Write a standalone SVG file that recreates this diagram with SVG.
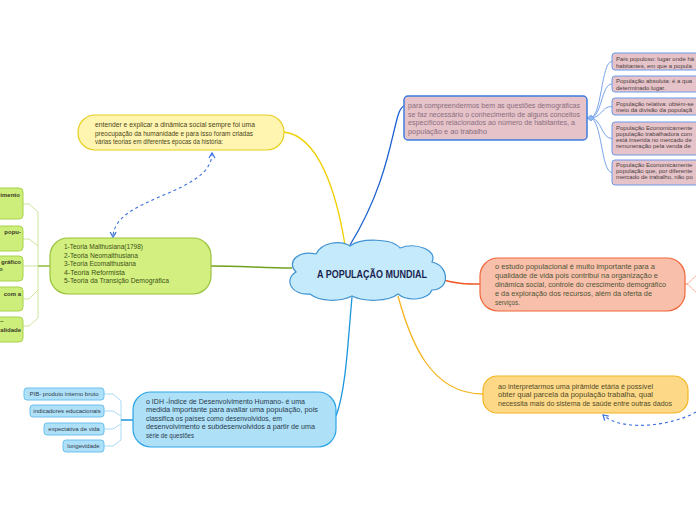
<svg xmlns="http://www.w3.org/2000/svg" width="696" height="520" viewBox="0 0 696 520">
<defs>
<marker id="arr" markerWidth="8" markerHeight="8" refX="6" refY="4" orient="auto" markerUnits="userSpaceOnUse">
<path d="M1,1 L6,4 L1,7" fill="none" stroke="#3a6fe0" stroke-width="1.2"/>
</marker>
<marker id="arrs" markerWidth="8" markerHeight="8" refX="2" refY="4" orient="auto" markerUnits="userSpaceOnUse">
<path d="M7,1 L2,4 L7,7" fill="none" stroke="#3a6fe0" stroke-width="1.2"/>
</marker>
</defs>
<style>
text{font-family:"Liberation Sans","DejaVu Sans",sans-serif;}
.t{font-size:7px;}
.s{font-size:6px;fill:#4a4040;}
.g{font-size:6px;font-weight:bold;fill:#3a3a2a;}
.b{font-size:6px;fill:#2e3a48;}
.conn{fill:none;}
.dash{fill:none;stroke:#3a6fe0;stroke-width:1.1;stroke-dasharray:3,3;}
</style>
<rect width="696" height="520" fill="#ffffff"/>

<g id="connectors">
<path class="conn" d="M284,132 C318,136 336,190 345,245" stroke="#f0d000" stroke-width="1.3"/>
<path class="conn" d="M211,266 C240,266 265,268 292,268" stroke="#6fa11e" stroke-width="1.5"/>
<path class="conn" d="M404,106 C392,110 396,170 350,245" stroke="#1a5fd0" stroke-width="1.3"/>
<path class="conn" d="M443,280 C458,284 466,284 480,284" stroke="#f05a28" stroke-width="1.3"/>
<path class="conn" d="M398,296 C410,340 430,394 483,394" stroke="#f5b41e" stroke-width="1.3"/>
<path class="conn" d="M352,297 C348,340 346,390 336,416" stroke="#1e96dc" stroke-width="1.3"/>
<path class="conn" d="M590,118 C602,118 601,61.5 612,61.5" stroke="#6a9ae8" stroke-width="0.9"/>
<path class="conn" d="M590,118 C602,118 601,84 612,84" stroke="#6a9ae8" stroke-width="0.9"/>
<path class="conn" d="M590,118 C602,118 601,106.5 612,106.5" stroke="#6a9ae8" stroke-width="0.9"/>
<path class="conn" d="M590,118 C602,118 601,138.5 612,138.5" stroke="#6a9ae8" stroke-width="0.9"/>
<path class="conn" d="M590,118 C602,118 601,172.5 612,172.5" stroke="#6a9ae8" stroke-width="0.9"/>
<path d="M587,118 L591,115 L594,118 L591,121 Z" fill="#8fb6f0" stroke="#5b8fe6" stroke-width="0.6"/>
<path class="conn" d="M685,284 C690,284 692,278 696,276" stroke="#f8a688" stroke-width="0.9"/>
<path class="conn" d="M685,284 C690,284 692,290 696,292" stroke="#f8a688" stroke-width="0.9"/>
<g stroke="#cde59c" stroke-width="1" fill="none">
<path d="M23,204 L29,204 L38,212 L38,318 L29,326 L23,326"/>
<path d="M23,239 L29,239 L38,246"/>
<path d="M23,266 L38,266"/>
<path d="M23,299 L29,299 L38,290"/>
</g>
<path class="conn" d="M38,266 L50,266" stroke="#8fbd3a" stroke-width="1.5"/>
<g stroke="#a9daf6" stroke-width="1" fill="none">
<path d="M104,394 L113,394 L121,401 L121,440 L113,446 L104,446"/>
<path d="M104,411 L113,411 L121,416"/>
<path d="M104,429 L113,429 L121,424"/>
</g>
<path class="conn" d="M121,420 L133,420" stroke="#1e96dc" stroke-width="1.5"/>
<path class="dash" d="M212,153 C212,195 114,196 113,237" marker-start="url(#arrs)" marker-end="url(#arr)"/>
<path class="dash" d="M696,412 C672,426 622,432 603,415" marker-end="url(#arr)"/>
</g>

<g id="center">
<path d="M310,294 C292,296 283,280 296,272 C286,262 298,250 316,254 C322,242 340,240 350,246 C360,238 392,238 400,248 C416,242 438,250 432,262 C450,266 450,290 432,290 C428,300 408,302 398,294 C388,302 364,302 352,296 C340,302 320,302 310,294 Z" fill="#c5eafc" stroke="#3f93d2" stroke-width="1.2"/>
<text x="317" y="278" font-size="10" font-weight="bold" fill="#1b2550" textLength="110" lengthAdjust="spacingAndGlyphs">A POPULAÇÃO MUNDIAL</text>
</g>

<g id="node-teorias-intro">
<rect x="78" y="115" width="206" height="35" rx="17" fill="#fff5b1" stroke="#e6cf1e" stroke-width="1.2"/>
<text class="t" fill="#4a4620">
<tspan x="95" y="127" textLength="160" lengthAdjust="spacingAndGlyphs">entender e explicar a dinâmica social sempre foi uma</tspan>
<tspan x="95" y="135.5" textLength="158" lengthAdjust="spacingAndGlyphs">preocupação da humanidade e para isso foram criadas</tspan>
<tspan x="95" y="144" textLength="128" lengthAdjust="spacingAndGlyphs">várias teorias em diferentes épocas da história:</tspan>
</text>
</g>

<g id="node-teorias">
<rect x="50" y="238" width="161" height="56" rx="18" fill="#d2ef7f" stroke="#99c23c" stroke-width="1.2"/>
<text class="t" fill="#3f5218">
<tspan x="64" y="249" textLength="79" lengthAdjust="spacingAndGlyphs">1-Teoria Malthusiana(1798)</tspan>
<tspan x="64" y="257.5" textLength="74" lengthAdjust="spacingAndGlyphs">2-Teoria Neomalthusiana</tspan>
<tspan x="64" y="266" textLength="72" lengthAdjust="spacingAndGlyphs">3-Teoria Ecomalthusiana</tspan>
<tspan x="64" y="274.5" textLength="61" lengthAdjust="spacingAndGlyphs">4-Teoria Reformista</tspan>
<tspan x="64" y="283" textLength="105" lengthAdjust="spacingAndGlyphs">5-Teoria da Transição Demográfica</tspan>
</text>
</g>

<g id="left-subnodes">
<rect x="-10" y="188" width="33" height="31" rx="4" fill="#cdee7a" stroke="#a8d24a"/>
<text class="g" x="20" y="197" text-anchor="end">imento</text>
<rect x="-10" y="226" width="33" height="25" rx="4" fill="#cdee7a" stroke="#a8d24a"/>
<text class="g" x="21" y="234" text-anchor="end">popu-</text>
<rect x="-10" y="256" width="33" height="25" rx="4" fill="#cdee7a" stroke="#a8d24a"/>
<text class="g" x="21" y="264" text-anchor="end">gráfico</text>
<text class="g" x="-1" y="271">o</text>
<rect x="-10" y="287" width="33" height="24" rx="4" fill="#cdee7a" stroke="#a8d24a"/>
<text class="g" x="21" y="296" text-anchor="end">com a</text>
<rect x="-10" y="317" width="33" height="25" rx="4" fill="#cdee7a" stroke="#a8d24a"/>
<text class="g" x="0" y="323">–</text>
<text class="g" x="21" y="332" text-anchor="end">alidade</text>
</g>

<g id="node-conceitos">
<rect x="404" y="96" width="183" height="44" rx="4" fill="#e6c3c9" stroke="#3d7be0" stroke-width="1.5"/>
<text class="t" fill="#8a6e7e">
<tspan x="408" y="108" textLength="172" lengthAdjust="spacingAndGlyphs">para compreendermos bem as questões demográficas</tspan>
<tspan x="408" y="116.5" textLength="172" lengthAdjust="spacingAndGlyphs">se faz necessário o conhecimento de alguns conceitos</tspan>
<tspan x="408" y="125" textLength="167" lengthAdjust="spacingAndGlyphs">específicos relacionados ao número de habitantes, a</tspan>
<tspan x="408" y="133.5" textLength="79" lengthAdjust="spacingAndGlyphs">população e ao trabalho</tspan>
</text>
</g>

<g id="right-subnodes">
<rect x="612" y="53" width="100" height="17" rx="3" fill="#e6c3c9" stroke="#6a9ae8"/>
<text class="s"><tspan x="616" y="60.5">País populoso: lugar onde há</tspan><tspan x="616" y="67.5">habitantes, em que a popula</tspan></text>
<rect x="612" y="76" width="100" height="16" rx="3" fill="#e6c3c9" stroke="#6a9ae8"/>
<text class="s"><tspan x="616" y="83">População absoluta: é a qua</tspan><tspan x="616" y="89.5">determinado lugar.</tspan></text>
<rect x="612" y="98" width="100" height="17" rx="3" fill="#e6c3c9" stroke="#6a9ae8"/>
<text class="s"><tspan x="616" y="105.5">População relativa: obtém-se</tspan><tspan x="616" y="112">meio da divisão da populaçã</tspan></text>
<rect x="612" y="122" width="100" height="33" rx="3" fill="#e6c3c9" stroke="#6a9ae8"/>
<text class="s"><tspan x="616" y="129.5">População Economicamente</tspan><tspan x="616" y="135.5">população trabalhadora com</tspan><tspan x="616" y="141.5">está inserida no mercado de</tspan><tspan x="616" y="147.5">remuneração pela venda de</tspan></text>
<rect x="612" y="160" width="100" height="25" rx="3" fill="#e6c3c9" stroke="#6a9ae8"/>
<text class="s"><tspan x="616" y="167">População Economicamente</tspan><tspan x="616" y="173">população que, por diferente</tspan><tspan x="616" y="179">mercado de trabalho, não po</tspan></text>
</g>

<g id="node-estudo">
<rect x="480" y="258" width="205" height="53" rx="18" fill="#f8bfaa" stroke="#f0663a" stroke-width="1.2"/>
<text class="t" fill="#4d5638">
<tspan x="495" y="268.5" textLength="160" lengthAdjust="spacingAndGlyphs">o estudo populacional é muito importante para a</tspan>
<tspan x="495" y="277.5" textLength="163" lengthAdjust="spacingAndGlyphs">qualidade de vida pois contribui na organização e</tspan>
<tspan x="495" y="286.5" textLength="171" lengthAdjust="spacingAndGlyphs">dinâmica social, controle do crescimento demográfico</tspan>
<tspan x="495" y="295.5" textLength="157" lengthAdjust="spacingAndGlyphs">e da exploração dos recursos, além da oferta de</tspan>
<tspan x="495" y="304.5" textLength="25" lengthAdjust="spacingAndGlyphs">serviços.</tspan>
</text>
</g>

<g id="node-piramide">
<rect x="483" y="376" width="205" height="37" rx="14" fill="#fdd987" stroke="#f3b420" stroke-width="1.2"/>
<text class="t" fill="#4f4a2a">
<tspan x="498" y="388.5" textLength="155" lengthAdjust="spacingAndGlyphs">ao interpretarmos uma pirâmide etária é possível</tspan>
<tspan x="498" y="397" textLength="155" lengthAdjust="spacingAndGlyphs">obter qual parcela da população trabalha, qual</tspan>
<tspan x="498" y="405.5" textLength="174" lengthAdjust="spacingAndGlyphs">necessita mais do sistema de saúde entre outras dados</tspan>
</text>
</g>

<g id="node-idh">
<rect x="133" y="392" width="203" height="55" rx="18" fill="#aee0f8" stroke="#2da3e6" stroke-width="1.2"/>
<text class="t" fill="#2a3a4a">
<tspan x="146" y="403.5" textLength="159" lengthAdjust="spacingAndGlyphs">o IDH -Índice de Desenvolvimento Humano- é uma</tspan>
<tspan x="146" y="412" textLength="172" lengthAdjust="spacingAndGlyphs">medida importante para avaliar uma população, pois</tspan>
<tspan x="146" y="420.5" textLength="136" lengthAdjust="spacingAndGlyphs">classifica os países como desenvolvidos, em</tspan>
<tspan x="146" y="429" textLength="169" lengthAdjust="spacingAndGlyphs">desenvolvimento e subdesenvolvidos a partir de uma</tspan>
<tspan x="146" y="437.5" textLength="48" lengthAdjust="spacingAndGlyphs">série de questões</tspan>
</text>
</g>

<g id="idh-subnodes">
<rect x="24" y="388" width="80" height="12" rx="3" fill="#aee0f8" stroke="#6cc0ee"/>
<text class="b" x="64" y="396.2" text-anchor="middle">PIB- produto interno bruto</text>
<rect x="30" y="405" width="74" height="12" rx="3" fill="#aee0f8" stroke="#6cc0ee"/>
<text class="b" x="67" y="413.2" text-anchor="middle">indicadores educacionais</text>
<rect x="44" y="423" width="60" height="12" rx="3" fill="#aee0f8" stroke="#6cc0ee"/>
<text class="b" x="74" y="431.2" text-anchor="middle">expectativa de vida</text>
<rect x="63" y="440" width="41" height="12" rx="3" fill="#aee0f8" stroke="#6cc0ee"/>
<text class="b" x="83.5" y="448.2" text-anchor="middle">longevidade</text>
</g>
</svg>
